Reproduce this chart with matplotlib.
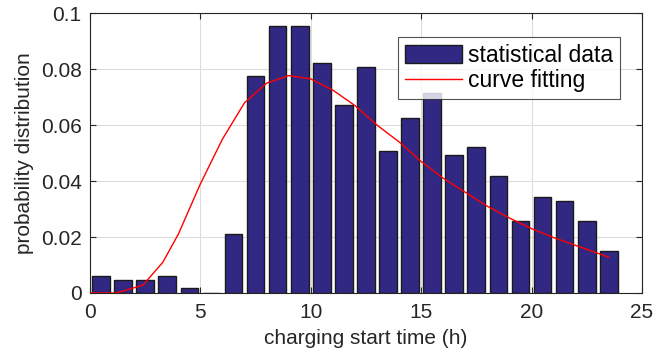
import matplotlib
matplotlib.use("Agg")
import matplotlib.pyplot as plt
from matplotlib.ticker import FixedLocator, FixedFormatter

plt.rcParams['font.family'] = ['Liberation Sans', 'DejaVu Sans']

hours = [0.5, 1.5, 2.5, 3.5, 4.5, 5.5, 6.5, 7.5, 8.5, 9.5, 10.5, 11.5,
         12.5, 13.5, 14.5, 15.5, 16.5, 17.5, 18.5, 19.5, 20.5, 21.5, 22.5, 23.5]
prob = [0.0062, 0.0046, 0.0046, 0.0062, 0.0017, 0.0, 0.021, 0.0775, 0.0954, 0.0954,
        0.0822, 0.0671, 0.0806, 0.0507, 0.0627, 0.0715, 0.0493, 0.0523, 0.0419,
        0.0256, 0.0344, 0.0329, 0.0256, 0.0151]

fit_x = [0, 1, 1.2, 2.4, 3.3, 4, 5, 6, 7, 8, 9, 10, 11, 12, 13, 14, 15, 16,
         17, 18, 19, 20, 21, 22, 23, 23.5]
fit_y = [0.0, 0.0, 0.0, 0.0028, 0.011, 0.021, 0.039, 0.055, 0.068, 0.075, 0.0777,
         0.0765, 0.0725, 0.067, 0.060, 0.054, 0.047, 0.041, 0.036, 0.031, 0.0268,
         0.023, 0.0198, 0.0170, 0.0142, 0.0128]

xticks = [0, 5, 10, 15, 20, 25]
yticks = [0, 0.02, 0.04, 0.06, 0.08, 0.1]
ytick_labels = ["0", "0.02", "0.04", "0.06", "0.08", "0.1"]

fig = plt.figure(figsize=(6.57, 3.56), dpi=100)
ax = fig.add_axes([0.137, 0.177, 0.840, 0.786])

bars = ax.bar(hours, prob, width=0.8, color='#312884', edgecolor='#1a1a1a',
              linewidth=1.0, label='statistical data', zorder=2)
line, = ax.plot(fit_x, fit_y, color='#ff0000', linewidth=1.0, label='curve fitting', zorder=3)

ax.set_xlim(0, 25)
ax.set_ylim(0, 0.1)
ax.xaxis.set_major_locator(FixedLocator(xticks))
ax.yaxis.set_major_locator(FixedLocator(yticks))
ax.yaxis.set_major_formatter(FixedFormatter(ytick_labels))
ax.grid(True, color='#dcdcdc', linewidth=0.8, zorder=0)
ax.set_axisbelow(True)
ax.tick_params(direction='in', top=True, right=True, labelsize=15,
               colors='#262626', length=4)
ax.tick_params(axis='x', pad=7)
ax.tick_params(axis='y', pad=6)
for s in ax.spines.values():
    s.set_color('#262626')
    s.set_linewidth(0.8)

ax.set_xlabel('charging start time (h)', fontsize=15, color='#262626', labelpad=5)
ax.set_ylabel('probability distribution', fontsize=15, color='#262626', labelpad=5)

leg = ax.legend([bars, line], ['statistical data', 'curve fitting'],
                loc='upper right', bbox_to_anchor=(0.96, 0.915), fontsize=16.5,
                frameon=True, fancybox=False, edgecolor='#262626',
                handlelength=2.5, handleheight=0.85, handletextpad=0.25,
                borderpad=0.3, labelspacing=0.1, borderaxespad=0)
leg.get_frame().set_linewidth(0.8)

fig.savefig('out.png', dpi=100)
